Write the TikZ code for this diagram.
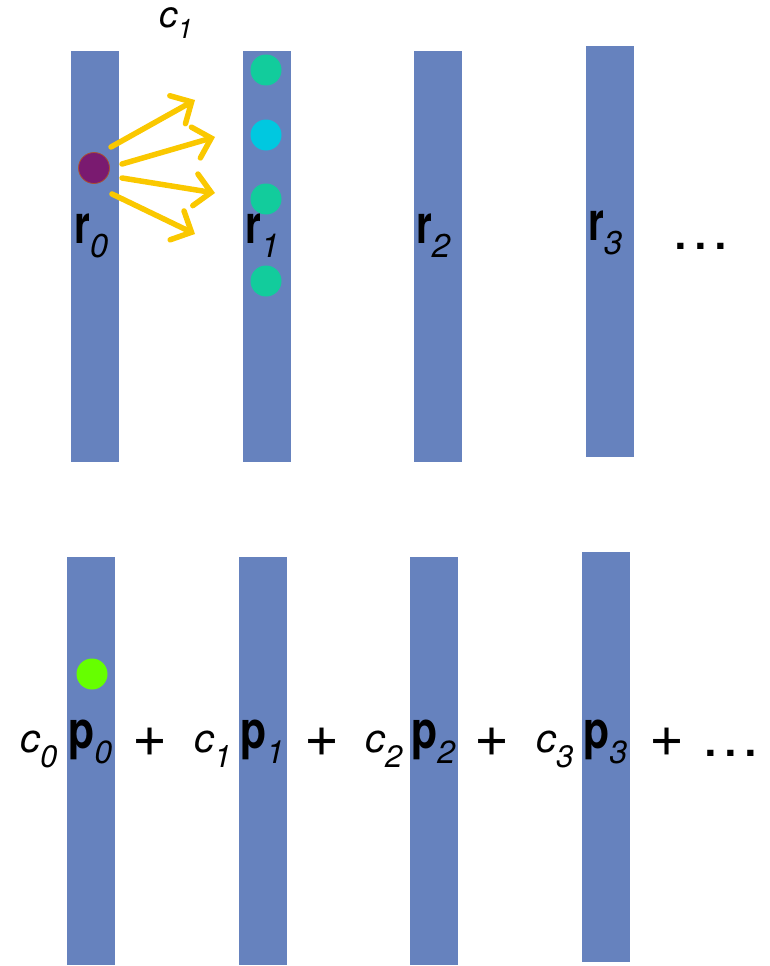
\documentclass[tikz,border=0pt]{standalone}
\usepackage{graphicx}
\usepackage{fontspec}
\setmainfont{TeX Gyre Heros}
\usetikzlibrary{arrows.meta}
\definecolor{barblue}{RGB}{102,130,190}
\definecolor{arrowyellow}{RGB}{250,200,0}
\definecolor{dotpurple}{RGB}{122,26,112}
\definecolor{dotedge}{RGB}{170,80,50}
\definecolor{dotteal}{RGB}{18,204,156}
\definecolor{dotcyan}{RGB}{0,200,224}
\definecolor{dotgreen}{RGB}{102,255,0}
\newcommand\bigbold[1]{\scalebox{0.75}[1]{\fontsize{54}{54}\selectfont\bfseries #1}}
\newcommand\topsub[1]{\raisebox{-14pt}{\fontsize{33}{33}\selectfont\itshape #1}}
\newcommand\botbold[1]{\scalebox{0.82}[1]{\fontsize{52}{52}\selectfont\bfseries #1}}
\newcommand\botsub[1]{\raisebox{-15pt}{\fontsize{32}{32}\selectfont\itshape #1}}
\newcommand\coef[1]{{\fontsize{40}{40}\selectfont\itshape c}\raisebox{-15pt}{\fontsize{31}{31}\selectfont\itshape #1}}
\newcommand\tdots{{\fontsize{60}{60}\selectfont .\kern3.3pt.\kern3.3pt.}}
\begin{document}
\begin{tikzpicture}[x=1pt,y=-1pt,
  bar/.style={fill=barblue, inner sep=0pt, minimum width=48pt, minimum height=411pt},
  lbl/.style={inner sep=0pt, anchor=base west},
  dot/.style={circle, inner sep=0pt, minimum size=31pt},
  yarrow/.style={draw=arrowyellow, line width=5.5pt, line cap=round,
     -{Straight Barb[length=16pt,width=32pt,line cap=round]}},
  plus/.style={inner sep=0pt, font=\fontsize{60}{60}\selectfont}]
\useasboundingbox (0,0) rectangle (769,966);
% top bars
\node[bar] (b0) at (95,256.5) {};
\node[bar] (b1) at (267,256.5) {};
\node[bar] (b2) at (438,256.5) {};
\node[bar] (b3) at (610,251.5) {};
% bottom bars
\node[bar, minimum height=408pt] (q0) at (91,761) {};
\node[bar, minimum height=408pt] (q1) at (263,761) {};
\node[bar, minimum height=408pt] (q2) at (434,761) {};
\node[bar, minimum height=410pt] (q3) at (606,757) {};
% dots
\node[dot, fill=dotpurple, draw=dotedge, line width=0.8pt] (src) at (94,168) {};
\node[dot, fill=dotteal] (d1) at (266,70) {};
\node[dot, fill=dotcyan] (d2) at (266,135) {};
\node[dot, fill=dotteal] (d3) at (266,199) {};
\node[dot, fill=dotteal] (d4) at (266,281) {};
\node[dot, fill=dotgreen] (g0) at (92,674) {};
% arrows
\coordinate (s1) at (111,147); \coordinate (e1) at (195,100);
\coordinate (s2) at (122,164); \coordinate (e2) at (215,137);
\coordinate (s3) at (122,178); \coordinate (e3) at (215,193);
\coordinate (s4) at (112,194); \coordinate (e4) at (195,234);
\draw[yarrow] (s1) -- (e1);
\draw[yarrow] (s2) -- (e2);
\draw[yarrow] (s3) -- (e3);
\draw[yarrow] (s4) -- (e4);
% top labels
\node[lbl] (c1top) at (159,28) {{\fontsize{37}{37}\selectfont\itshape c}\raisebox{-10pt}{\fontsize{27}{27}\selectfont\itshape 1}};
\node[lbl] (r0) at (74,243) {\bigbold{r}\topsub{0}};
\node[lbl] (r1) at (245,243) {\bigbold{r}\topsub{1}};
\node[lbl] (r2) at (416,243) {\bigbold{r}\topsub{2}};
\node[lbl] (r3) at (588,240) {\bigbold{r}\topsub{3}};
\node[lbl] (tdots) at (672,249) {\tdots};
% bottom labels
\node[lbl] (c0) at (20,752) {\coef{0}};
\node[lbl] (p0) at (68,748) {\botbold{p}\botsub{0}};
\node[plus] (pl1) at (150,742) {+};
\node[lbl] (c1) at (194,752) {\coef{1}};
\node[lbl] (p1) at (240,748) {\botbold{p}\botsub{1}};
\node[plus] (pl2) at (322,742) {+};
\node[lbl] (c2) at (365,752) {\coef{2}};
\node[lbl] (p2) at (411,748) {\botbold{p}\botsub{2}};
\node[plus] (pl3) at (492,742) {+};
\node[lbl] (c3) at (536,752) {\coef{3}};
\node[lbl] (p3) at (583,748) {\botbold{p}\botsub{3}};
\node[plus] (pl4) at (667,742) {+};
\node[lbl] (bdots) at (702,756) {\tdots};
\end{tikzpicture}
\end{document}
